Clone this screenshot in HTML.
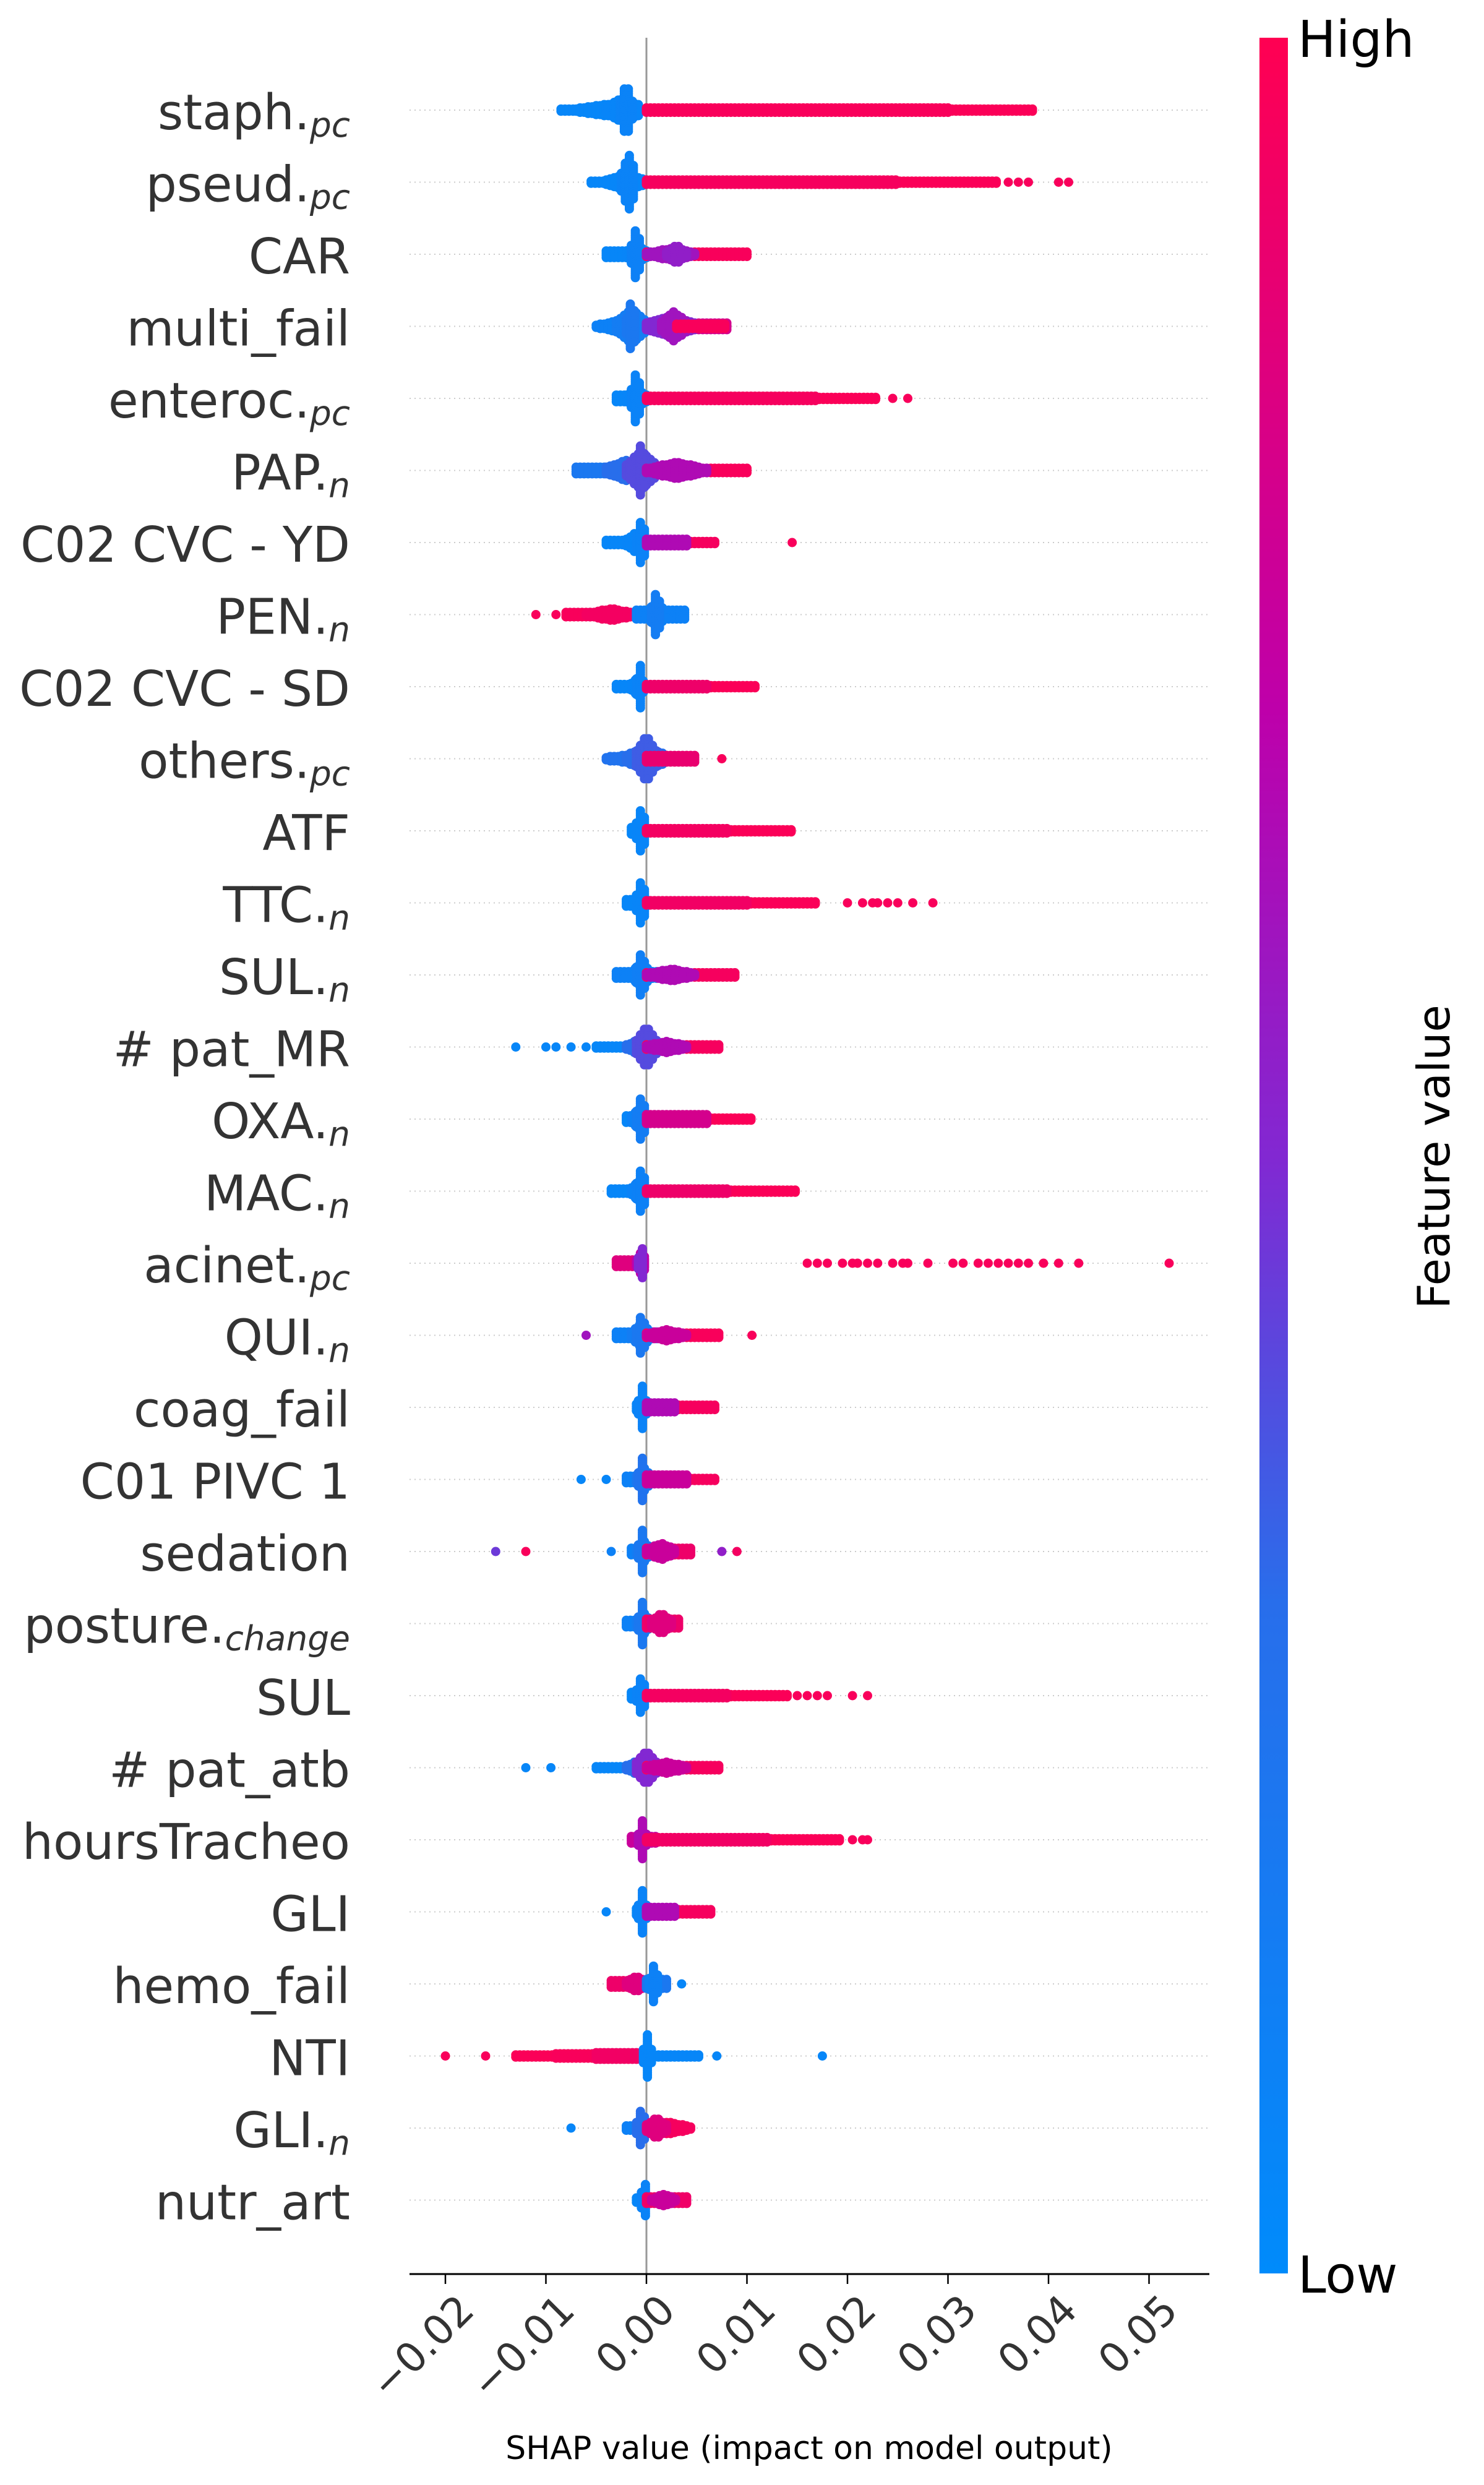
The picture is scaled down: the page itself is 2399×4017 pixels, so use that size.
<!DOCTYPE html>
<html><head><meta charset="utf-8">
<style>
html,body{margin:0;padding:0;background:#fff;}
svg{display:block;font-family:"DejaVu Sans","Liberation Sans",sans-serif;}
</style></head>
<body>
<svg id="chart" width="2399" height="4017" viewBox="0 0 2399 4017" xmlns="http://www.w3.org/2000/svg">
<defs>
<linearGradient id="cbg" x1="0" y1="1" x2="0" y2="0">
<stop offset="0" stop-color="rgb(0,139,251)"/>
<stop offset="0.3" stop-color="rgb(40,110,235)"/>
<stop offset="0.5" stop-color="rgb(130,40,210)"/>
<stop offset="0.7" stop-color="rgb(190,0,170)"/>
<stop offset="1" stop-color="rgb(255,0,82)"/>
</linearGradient>
</defs>
<g id="rows"></g>
<line x1="1045" y1="61" x2="1045" y2="3676" stroke="#999" stroke-width="3"/>
<g id="dots"></g>
<line x1="662" y1="3676" x2="1955" y2="3676" stroke="#000" stroke-width="3"/>
<g id="ticks"></g>
<text x="1308" y="3975" font-size="52" text-anchor="middle" fill="#000">SHAP value (impact on model output)</text>
<rect x="2036" y="61" width="46" height="3614" fill="url(#cbg)"/>
<text x="2098" y="92" font-size="82" fill="#000">High</text>
<text x="2098" y="3706" font-size="82" fill="#000">Low</text>
<text x="2343" y="1870" font-size="72" text-anchor="middle" fill="#000" transform="rotate(-90 2343 1870)">Feature value</text>
</svg>
<script>
// feature labels [main, subscript]
const featureNames = [["staph.","pc"],["pseud.","pc"],["CAR",""],["multi_fail",""],["enteroc.","pc"],["PAP.","n"],["C02 CVC - YD",""],["PEN.","n"],["C02 CVC - SD",""],["others.","pc"],["ATF",""],["TTC.","n"],["SUL.","n"],["# pat_MR",""],["OXA.","n"],["MAC.","n"],["acinet.","pc"],["QUI.","n"],["coag_fail",""],["C01 PIVC 1",""],["sedation",""],["posture.","change"],["SUL",""],["# pat_atb",""],["hoursTracheo",""],["GLI",""],["hemo_fail",""],["NTI",""],["GLI.","n"],["nutr_art",""]];
// tick values (SHAP units)
const tickValues = [-0.02,-0.01,0.00,0.01,0.02,0.03,0.04,0.05];
const tickLabels = ["\u22120.02","\u22120.01","0.00","0.01","0.02","0.03","0.04","0.05"];
// bands per feature: [from(x1e-3), to(x1e-3), stackCount, featureValue]
const featureBands = [
[[-8.5,-5,2,.05],[-7,-1,6,.05],[-4,-0.5,12,.06],[-2.6,-1.4,26,.08],[0,38.5,2,.98],[0,30,3,.97]],
[[-5.5,0,2,.05],[-4,0,8,.05],[-2.5,-1,26,.08],[0,35,2,.98],[0,25,3,.96]],
[[-4,0,4,.05],[-2,0,10,.06],[-1.5,-0.5,25,.1],[0,10,3,.97],[0,5,6,.6],[2,4,9,.55]],
[[-5,0,6,.1],[-3,0,16,.15],[-2,-1,24,.2],[0,8,4,.8],[0,5,10,.5],[1.5,4,14,.6],[3,8,3,.97]],
[[-3,0,4,.05],[-2,0,10,.06],[-1.5,-0.5,25,.08],[0,23,2,.98],[0,17,3,.96]],
[[-7,0,4,.2],[-4,0,10,.3],[-2,1,18,.4],[-1,0,27,.4],[0,10,3,.97],[0,6,8,.65]],
[[-4,0,3,.05],[-2,0,10,.06],[-1,0,22,.08],[0,7,2,.96],[0,4,4,.65]],
[[-8,-1,3,.97],[-6,-1,6,.95],[-1,4,5,.1],[0,2,12,.1],[0.5,1.5,22,.15]],
[[-3,0,3,.05],[-1.5,0,10,.06],[-1,-0.3,22,.08],[0,11,2,.98],[0,6,3,.92]],
[[-4,3,6,.25],[-2,2,12,.3],[-1,1,22,.35],[0,5,4,.9]],
[[-1.5,0,4,.05],[-1,0,22,.06],[0,14.5,2,.98],[0,8,3,.95]],
[[-2,0,4,.05],[-1,0,22,.06],[0,17,2,.98],[0,10,3,.94]],
[[-3,1,4,.1],[-1.5,0.5,12,.1],[-1,0,22,.12],[0,9,3,.96],[0,5,6,.65]],
[[-5,-1,2,.05],[-2,1,8,.3],[-1,1,20,.4],[0,7.5,3,.96],[0,4,6,.65]],
[[-2,0,4,.05],[-1.5,0,10,.1],[-1,0,22,.15],[0,10.5,2,.98],[0,6,5,.8]],
[[-3.5,0,3,.05],[-1.5,0,10,.08],[-1,0,22,.1],[0,15,2,.98],[0,8,3,.92]],
[[-3,0,4,.85],[-1,0,12,.7],[-0.8,-0.2,18,.5]],
[[-3,1,4,.1],[-1.5,0.5,12,.15],[-1,0,20,.2],[0,7.5,3,.97],[0,4,6,.75]],
[[-1,0,4,.05],[-0.8,0,20,.08],[0,7,3,.96],[0,3,5,.65]],
[[-2,1,4,.1],[-1,0.5,12,.2],[-0.8,0,20,.25],[0,7,2,.96],[0,4,5,.75]],
[[-1.5,1,4,.1],[-1,0.5,10,.15],[-0.8,0,20,.2],[0,4.5,4,.92],[0,3,8,.75]],
[[-2,1,4,.1],[-1,0.5,10,.15],[-0.8,0,20,.2],[0,3.5,5,.92],[0.5,2.5,10,.85]],
[[-1.5,0,4,.05],[-1,0,18,.08],[0,14,2,.98],[0,8,3,.95]],
[[-5,-1,2,.05],[-2,1,8,.3],[-1,1,16,.5],[0,7.5,3,.96],[0,4,6,.75]],
[[-1.5,1,4,.75],[-0.8,0,18,.65],[0,19.5,2,.98],[0,12,3,.94]],
[[-1,0,4,.05],[-0.8,0,20,.08],[0,6.5,3,.96],[0,3,5,.65]],
[[-3.5,0,4,.92],[-2,0,8,.85],[0,2,5,.2],[0.3,1.2,18,.1]],
[[-13,-9,2,.98],[-9,0,3,.97],[-5,0,4,.94],[0,5.5,2,.05],[-0.3,0.5,20,.05]],
[[-2,0,3,.1],[-1,0,18,.3],[0,4.5,6,.96],[0,2,10,.85]],
[[-1,0,3,.05],[-0.5,0,24,.08],[0,4,4,.93],[0.5,3,6,.75]]
];
// outlier points per feature: [value(x1e-3), featureValue]
const featurePoints = [
[],
[[36,.97],[37,.97],[38,.97],[41,.97],[42,.97]],
[],[],
[[24.5,.97],[26,.97]],
[],
[[14.5,.97]],
[[-11,.97],[-9,.97]],
[],
[[7.5,.97]],
[],
[[20,.97],[21.5,.97],[22.5,.97],[23,.97],[24,.97],[25,.97],[26.5,.97],[28.5,.97]],
[],
[[-13,.05],[-10,.05],[-9,.05],[-7.5,.05],[-6,.05]],
[],[],
[[16,.97],[17,.97],[18,.97],[19.5,.97],[20.5,.97],[21,.97],[22,.97],[23,.97],[24.5,.97],[25.5,.97],[26,.97],[28,.97],[30.5,.97],[31.5,.97],[33,.97],[34,.97],[35,.97],[36,.97],[37,.97],[38,.97],[39.5,.97],[41,.97],[43,.97],[52,.97]],
[[-6,.6],[10.5,.97]],
[],
[[-6.5,.05],[-4,.05]],
[[-15,.45],[-12,.97],[-3.5,.1],[7.5,.55],[9,.95]],
[],
[[15,.97],[16,.97],[17,.97],[18,.97],[20.5,.97],[22,.97]],
[[-12,.05],[-9.5,.05]],
[[20.5,.97],[21.5,.97],[22,.97]],
[[-4,.05]],
[[3.5,.05]],
[[-20,.97],[-16,.97],[7,.05],[17.5,.05]],
[[-7.5,.05]],
[]
];

const NS="http://www.w3.org/2000/svg";
const X0=1045, PX_PER_UNIT=16250, ROW0=178, ROWSTEP=116.5;
function xScale(v){return X0+v*PX_PER_UNIT;}
function yRow(i){return ROW0+i*ROWSTEP;}
function color(t){
  const st=[[0,0,139,251],[0.3,40,110,235],[0.5,130,40,210],[0.7,190,0,170],[1,255,0,82]];
  for(let k=1;k<st.length;k++){ if(t<=st[k][0]){const a=st[k-1],b=st[k],f=(t-a[0])/(b[0]-a[0]);
    return `rgb(${Math.round(a[1]+f*(b[1]-a[1]))},${Math.round(a[2]+f*(b[2]-a[2]))},${Math.round(a[3]+f*(b[3]-a[3]))})`;}}
  return "rgb(255,0,82)";
}
const rows=document.getElementById('rows'), dots=document.getElementById('dots'), ticks=document.getElementById('ticks');
featureNames.forEach((nm,i)=>{
  const y=yRow(i);
  const ln=document.createElementNS(NS,'line');
  
  
  ln.setAttribute('x1',662);ln.setAttribute('x2',1955);ln.setAttribute('y1',y);ln.setAttribute('y2',y);
  ln.setAttribute('stroke','#ccc');ln.setAttribute('stroke-width','2');ln.setAttribute('stroke-dasharray','2 6');
  rows.appendChild(ln);
  const t=document.createElementNS(NS,'text');
  
  
  t.setAttribute('x',566);t.setAttribute('y',y+31);t.setAttribute('text-anchor','end');
  t.setAttribute('font-size','79');t.setAttribute('fill','#333');
  const m=document.createElementNS(NS,'tspan');m.textContent=nm[0];t.appendChild(m);
  if(nm[1]){const s=document.createElementNS(NS,'tspan');s.textContent=nm[1];
    s.setAttribute('font-size','55');s.setAttribute('font-style','italic');s.setAttribute('dy','12');t.appendChild(s);}
  rows.appendChild(t);
  const g=document.createElementNS(NS,'g');
  
  
  dots.appendChild(g);
  const addStack=(v,k,c)=>{
    for(let j=0;j<k;j++){
      const cc=document.createElementNS(NS,'circle');
      
      
      cc.setAttribute('cx',xScale(v).toFixed(1));
      cc.setAttribute('cy',(y+(j-(k-1)/2)*3.6).toFixed(1));
      cc.setAttribute('r',7.5);cc.setAttribute('fill',color(c));
      g.appendChild(cc);
    }
  };
  featureBands[i].forEach(b=>{
    const mid=(b[0]+b[1])/2, hw=Math.max((b[1]-b[0])/2,0.2);
    for(let v=b[0];v<=b[1]+1e-9;v+=0.4){
      let k=b[2];
      if(k>=6){k=Math.max(1,Math.round(k*(1-0.65*Math.abs(v-mid)/hw)));}
      addStack(v/1000,k,b[3]);
    }
  });
  featurePoints[i].forEach(p=>addStack(p[0]/1000,1,p[1]));
});
tickValues.forEach((v,i)=>{
  const x=xScale(v);
  const tk=document.createElementNS(NS,'line');
  
  
  tk.setAttribute('x1',x);tk.setAttribute('x2',x);tk.setAttribute('y1',3676);tk.setAttribute('y2',3692);
  tk.setAttribute('stroke','#000');tk.setAttribute('stroke-width','2.5');
  ticks.appendChild(tk);
  const t=document.createElementNS(NS,'text');
  
  
  const ax=x+50, ay=3738;
  t.setAttribute('x',ax);t.setAttribute('y',ay);t.setAttribute('text-anchor','end');
  t.setAttribute('font-size','66');t.setAttribute('fill','#333');
  t.setAttribute('transform',`rotate(-45 ${ax} ${ay})`);
  t.textContent=tickLabels[i];
  ticks.appendChild(t);
});
</script>
</body></html>
